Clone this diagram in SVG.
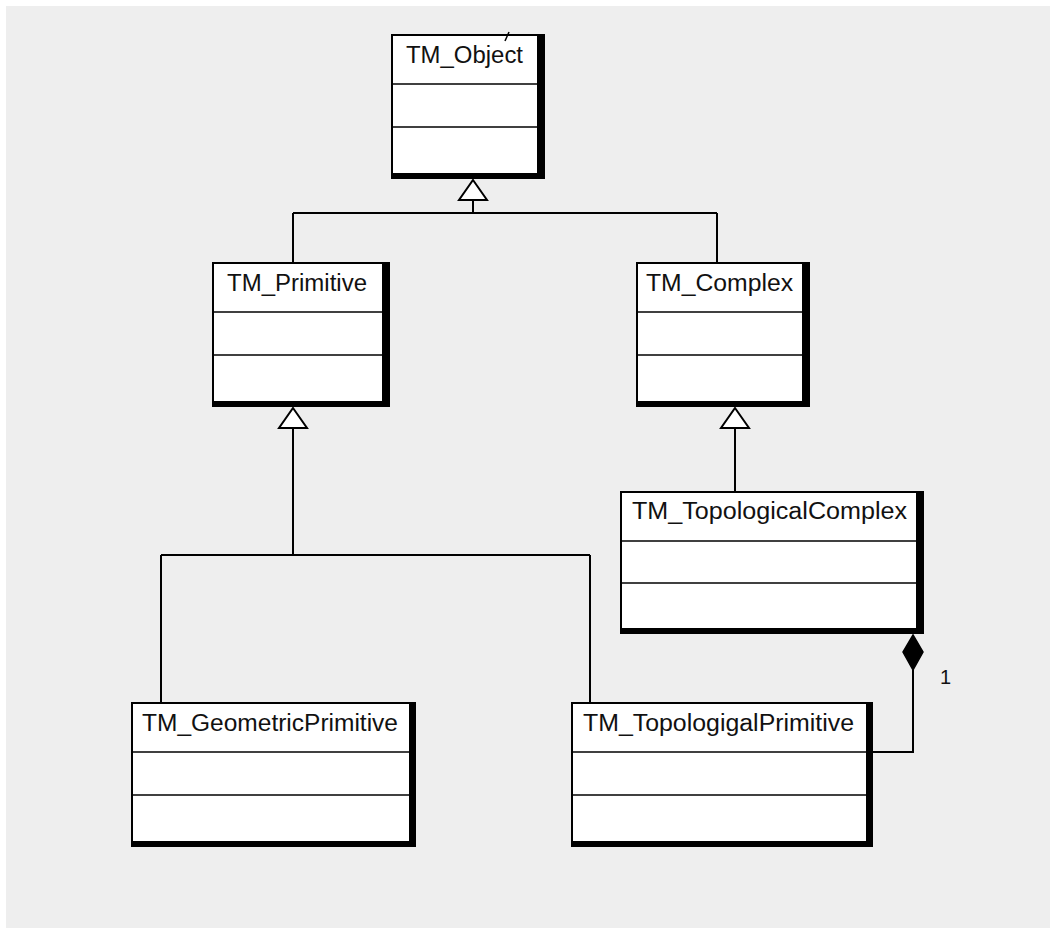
<svg xmlns="http://www.w3.org/2000/svg" width="1050" height="928" viewBox="0 0 1050 928">
  <style>
    .bg { fill: #eeeeee; }
    .shadow { fill: #000000; }
    .box { fill: #ffffff; stroke: #000000; stroke-width: 2; }
    .div { stroke: #000000; stroke-width: 1.6; }
    .name { font-family: "Liberation Sans", Arial, sans-serif; font-size: 23px; fill: #111111; }
    .edge { fill: none; stroke: #000000; stroke-width: 2; }
    .gen { fill: #ffffff; stroke: #000000; stroke-width: 2; stroke-linejoin: miter; }
    .comp { fill: #000000; stroke: #000000; stroke-width: 1.5; }
    .mult { font-family: "Liberation Sans", Arial, sans-serif; font-size: 20px; fill: #111111; }
  </style>

  <rect x="0" y="0" width="1050" height="928" fill="#ffffff"/>
  <rect class="bg" x="6" y="6" width="1044" height="922"/>

  <!-- connectors -->
  <g id="connectors">
    <!-- TM_Primitive, TM_Complex specialise TM_Object -->
    <path class="edge" d="M473 200 V213 M293 213 H717 M293 213 V263 M717 213 V263"/>
    <polygon class="gen" points="473,180 487,200 459,200"/>
    <!-- TM_GeometricPrimitive, TM_TopologigalPrimitive specialise TM_Primitive -->
    <path class="edge" d="M293 428 V555 M161 555 H590 M161 555 V703 M590 555 V703"/>
    <polygon class="gen" points="293,408 307,428 279,428"/>
    <!-- TM_TopologicalComplex specialises TM_Complex -->
    <path class="edge" d="M735 428 V492"/>
    <polygon class="gen" points="735,408 749,428 721,428"/>
    <!-- composition TM_TopologicalComplex 1 - TM_TopologigalPrimitive -->
    <path class="edge" d="M913 670 V752 H872"/>
    <polygon class="comp" points="913,635 923,652 913,670 903,652"/>
    <text class="mult" x="940" y="684">1</text>
  </g>

  <g id="TM_Object">
    <rect class="shadow" x="391" y="34" width="154" height="145"/>
    <rect class="box" x="392" y="35" width="146" height="139"/>
    <line class="div" x1="392" y1="84" x2="538" y2="84"/>
    <line class="div" x1="392" y1="127" x2="538" y2="127"/>
    <text class="name" x="406" y="63" textLength="117" lengthAdjust="spacingAndGlyphs">TM_Object</text>
    <path d="M509 32 L505 41" stroke="#000000" stroke-width="1.5" fill="none"/>
  </g>

  <g id="TM_Primitive">
    <rect class="shadow" x="212" y="262" width="178" height="145"/>
    <rect class="box" x="213" y="263" width="170" height="139"/>
    <line class="div" x1="213" y1="312" x2="383" y2="312"/>
    <line class="div" x1="213" y1="355" x2="383" y2="355"/>
    <text class="name" x="227" y="291" textLength="140" lengthAdjust="spacingAndGlyphs">TM_Primitive</text>
  </g>

  <g id="TM_Complex">
    <rect class="shadow" x="636" y="262" width="174" height="145"/>
    <rect class="box" x="637" y="263" width="166" height="139"/>
    <line class="div" x1="637" y1="312" x2="803" y2="312"/>
    <line class="div" x1="637" y1="355" x2="803" y2="355"/>
    <text class="name" x="646" y="291" textLength="147" lengthAdjust="spacingAndGlyphs">TM_Complex</text>
  </g>

  <g id="TM_TopologicalComplex">
    <rect class="shadow" x="620" y="491" width="304" height="143"/>
    <rect class="box" x="621" y="492" width="296" height="137"/>
    <line class="div" x1="621" y1="541" x2="917" y2="541"/>
    <line class="div" x1="621" y1="583" x2="917" y2="583"/>
    <text class="name" x="632" y="519" textLength="275" lengthAdjust="spacingAndGlyphs">TM_TopologicalComplex</text>
  </g>

  <g id="TM_GeometricPrimitive">
    <rect class="shadow" x="131" y="702" width="285" height="145"/>
    <rect class="box" x="132" y="703" width="278" height="139"/>
    <line class="div" x1="132" y1="752" x2="410" y2="752"/>
    <line class="div" x1="132" y1="795" x2="410" y2="795"/>
    <text class="name" x="142" y="731" textLength="256" lengthAdjust="spacingAndGlyphs">TM_GeometricPrimitive</text>
  </g>

  <g id="TM_TopologigalPrimitive">
    <rect class="shadow" x="571" y="702" width="302" height="145"/>
    <rect class="box" x="572" y="703" width="295" height="139"/>
    <line class="div" x1="572" y1="752" x2="867" y2="752"/>
    <line class="div" x1="572" y1="795" x2="867" y2="795"/>
    <text class="name" x="583" y="731" textLength="271" lengthAdjust="spacingAndGlyphs">TM_TopologigalPrimitive</text>
  </g>
</svg>
